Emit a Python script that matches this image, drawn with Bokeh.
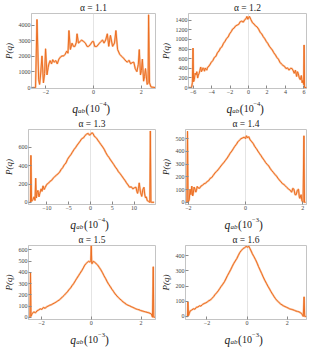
from bokeh.plotting import figure
from bokeh.layouts import column, row
from bokeh.models import FixedTicker, Range1d, Title
from bokeh.core.properties import value
from bokeh.embed import file_html
from bokeh.resources import INLINE

# ---------------- data ----------------
alphas = ["1.1", "1.2", "1.3", "1.4", "1.5", "1.6"]
exponents = ["−4", "−4", "−4", "−3", "−3", "−3"]

x1 = [-2.56,-2.43,-2.37,-2.30,-2.26,-2.22,-2.16,-2.10,-2.05,-2.01,-1.95,-1.90,-1.87,-1.82,-1.76,-1.71,-1.65,-1.58,-1.52,-1.45,-1.39,-1.32,-1.25,-1.19,-1.12,-1.07,-1.03,-0.97,-0.90,-0.84,-0.78,-0.72,-0.69,-0.63,-0.56,-0.50,-0.41,-0.34,-0.27,-0.21,-0.14,-0.05,0.0,0.05,0.14,0.25,0.31,0.38,0.44,0.51,0.58,0.64,0.71,0.80,0.88,0.94,1.01,1.10,1.16,1.22,1.29,1.36,1.42,1.49,1.56,1.62,1.69,1.75,1.82,1.88,1.92,1.97,2.01,2.05,2.10,2.14,2.18,2.25,2.29,2.31,2.35,2.41,2.58]
y1 = [0,0,4370,500,200,800,2030,300,900,2490,810,1300,1520,1730,1520,1790,1630,1730,1520,1830,1950,2030,2030,2130,2340,2200,3660,2440,2850,2640,2640,2900,3450,2850,2950,3050,2950,2850,2640,2640,2740,2950,2950,2640,2640,2850,2950,3050,2850,3050,3450,2640,3350,2640,2850,3660,2440,2130,2030,1950,1830,1700,1630,1750,1520,1600,1630,1220,1020,1500,2440,810,1100,1830,410,700,1220,200,300,4670,300,40,0]

x2 = [-6.50,-6.17,-6.08,-6.01,-5.95,-5.87,-5.78,-5.68,-5.60,-5.51,-5.43,-5.35,-5.26,-5.18,-5.10,-5.02,-4.93,-4.85,-4.77,-4.69,-4.60,-4.52,-4.44,-4.36,-4.20,-4.03,-3.87,-3.70,-3.53,-3.37,-3.20,-3.04,-2.87,-2.71,-2.55,-2.38,-2.21,-2.05,-1.88,-1.72,-1.55,-1.39,-1.22,-1.06,-0.90,-0.73,-0.57,-0.40,-0.28,-0.17,-0.08,0.0,0.10,0.26,0.43,0.60,0.76,0.93,1.09,1.26,1.42,1.59,1.75,1.92,2.08,2.25,2.41,2.58,2.74,2.91,3.07,3.24,3.40,3.57,3.73,3.90,4.06,4.22,4.39,4.55,4.72,4.84,4.95,5.08,5.21,5.30,5.38,5.50,5.61,5.72,5.81,5.90,5.97,6.02,6.07,6.30]
y2 = [0,0,100,822,120,164,300,263,330,197,260,296,360,427,330,362,410,394,340,407,380,362,420,427,470,526,560,625,650,723,760,822,850,920,960,1019,1050,1117,1160,1216,1240,1282,1300,1314,1370,1380,1360,1413,1430,1479,1420,1446,1480,1413,1348,1320,1282,1260,1216,1150,1117,1060,1019,960,920,860,822,780,723,680,625,590,526,490,460,440,394,410,362,400,394,350,296,360,230,330,296,200,164,250,99,150,60,887,0,0]

x3 = [-14.0,-13.75,-13.65,-13.5,-13.2,-12.92,-12.7,-12.55,-12.4,-12.2,-12.04,-11.8,-11.61,-11.31,-11.1,-10.88,-10.6,-10.36,-10.0,-9.6,-9.27,-8.9,-8.54,-8.2,-7.81,-7.45,-7.08,-6.7,-6.35,-6.0,-5.62,-5.25,-4.89,-4.5,-4.16,-3.8,-3.43,-3.05,-2.70,-2.35,-1.97,-1.6,-1.24,-0.9,-0.51,-0.25,0.0,0.3,0.58,0.85,1.09,1.4,1.68,2.05,2.41,2.8,3.14,3.5,3.87,4.25,4.60,4.95,5.33,5.7,6.06,6.4,6.79,7.15,7.52,7.9,8.25,8.6,8.98,9.35,9.71,10.1,10.44,10.62,10.80,11.0,11.17,11.45,11.75,12.0,12.26,12.45,12.63,12.8,12.99,13.3,13.6,13.72,13.85,14.0,14.6]
y3 = [0,0,513,10,30,60,20,264,47,110,130,60,97,147,120,180,140,164,197,210,230,240,264,280,297,310,330,360,380,410,430,470,497,520,547,575,597,625,647,670,697,705,730,745,753,735,740,760,753,725,713,700,680,655,630,605,580,545,513,490,463,440,413,385,363,335,313,290,264,240,213,190,164,170,147,160,164,120,97,150,213,110,64,140,164,80,47,60,20,10,0,780,0,0,0]

x4 = [-2.10,-2.05,-2.03,-2.01,-1.97,-1.94,-1.91,-1.88,-1.85,-1.83,-1.80,-1.77,-1.74,-1.72,-1.69,-1.67,-1.61,-1.56,-1.50,-1.45,-1.40,-1.34,-1.29,-1.24,-1.18,-1.13,-1.07,-1.02,-0.96,-0.91,-0.86,-0.81,-0.75,-0.70,-0.64,-0.59,-0.54,-0.48,-0.43,-0.38,-0.32,-0.27,-0.21,-0.16,-0.10,-0.05,0.0,0.03,0.07,0.11,0.16,0.22,0.27,0.32,0.38,0.43,0.48,0.54,0.59,0.65,0.70,0.75,0.81,0.86,0.91,0.97,1.02,1.08,1.13,1.18,1.24,1.29,1.34,1.40,1.45,1.51,1.56,1.61,1.65,1.69,1.73,1.77,1.81,1.85,1.88,1.90,1.94,1.97,2.01,2.04,2.06,2.08,2.10]
y4 = [0,0,558,0,20,103,60,127,50,67,120,103,80,91,125,115,110,127,135,146,150,163,170,187,195,211,230,242,255,271,285,299,315,330,348,366,385,402,420,438,455,474,488,499,505,510,500,522,505,515,490,474,460,438,420,402,385,366,348,330,312,299,285,266,250,235,220,206,190,175,160,146,140,127,115,103,95,79,110,103,60,60,95,103,40,31,60,12,0,522,0,0,0]

x5 = [-2.50,-2.46,-2.44,-2.42,-2.38,-2.31,-2.24,-2.18,-2.11,-2.05,-1.98,-1.92,-1.85,-1.79,-1.73,-1.67,-1.60,-1.54,-1.47,-1.41,-1.35,-1.28,-1.22,-1.15,-1.09,-1.03,-0.96,-0.90,-0.83,-0.77,-0.70,-0.64,-0.58,-0.51,-0.45,-0.38,-0.32,-0.26,-0.20,-0.15,-0.10,-0.06,-0.02,0.0,0.02,0.04,0.08,0.13,0.19,0.26,0.32,0.38,0.45,0.51,0.58,0.64,0.70,0.77,0.83,0.90,0.96,1.03,1.09,1.15,1.22,1.28,1.35,1.41,1.47,1.54,1.60,1.67,1.73,1.79,1.86,1.92,1.98,2.05,2.11,2.18,2.24,2.31,2.36,2.41,2.46,2.49,2.51,2.53,2.56]
y5 = [0,0,397,8,30,48,40,56,65,75,70,88,80,94,100,107,112,120,128,136,145,155,168,182,195,210,226,244,262,282,303,325,347,371,392,416,440,465,480,492,500,492,505,639,480,479,500,492,480,465,445,425,398,371,344,317,294,271,250,228,208,190,176,163,150,136,126,115,108,102,95,88,82,75,70,67,60,56,52,48,44,40,35,30,0,451,0,0,0]

x6 = [-3.02,-2.97,-2.95,-2.92,-2.88,-2.84,-2.76,-2.68,-2.60,-2.53,-2.45,-2.37,-2.30,-2.22,-2.14,-2.06,-1.98,-1.91,-1.83,-1.75,-1.67,-1.60,-1.52,-1.44,-1.37,-1.29,-1.21,-1.13,-1.06,-0.98,-0.90,-0.82,-0.75,-0.67,-0.59,-0.51,-0.44,-0.36,-0.28,-0.20,-0.12,-0.05,0.03,0.08,0.14,0.20,0.26,0.34,0.42,0.50,0.57,0.65,0.73,0.80,0.88,0.96,1.04,1.12,1.19,1.27,1.35,1.42,1.50,1.58,1.66,1.74,1.81,1.89,1.97,2.05,2.12,2.20,2.28,2.36,2.43,2.51,2.59,2.65,2.71,2.76,2.80,2.84,2.87,2.90,2.95]
y6 = [0,0,95,5,20,36,42,50,48,60,62,70,68,79,85,89,96,103,108,119,130,143,155,168,182,198,212,228,246,268,287,307,326,347,364,381,400,421,434,446,452,460,455,462,446,430,412,393,373,350,327,304,281,260,238,218,198,180,163,146,129,116,103,93,83,76,70,65,60,55,50,47,44,40,36,33,30,25,20,10,0,129,0,0,0]

xticks = [[-2, 0, 2], [-6, -4, -2, 0, 2, 4, 6], [-10, -5, 0, 5, 10], [-2, 0, 2], [-2, 0, 2], [-2, 0, 2]]
yticks = [[0, 1000, 2000, 3000, 4000], [0, 200, 400, 600, 800, 1000, 1200, 1400],
          [0, 200, 400, 600], [0, 100, 200, 300, 400, 500], [0, 100, 200, 300, 400, 500, 600],
          [0, 100, 200, 300, 400]]
xranges = [(-2.6, 2.6), (-6.5, 6.28), (-14.2, 14.9), (-2.1, 2.13), (-2.52, 2.58), (-3.07, 2.96)]
yranges = [(-60, 4750), (-20, 1540), (-24, 796), (-17, 571), (-20, 640), (-20, 466)]

xs = [x1, x2, x3, x4, x5, x6]
ys = [y1, y2, y3, y4, y5, y6]

# ---------------- styling ----------------
SERIF = "Liberation Serif"
LINE = "#EC6E22"
LIGHT = "#F6A874"
FRAME = "#c4c4c4"
TXT = "#222222"

ROW_H = [116, 116, 115]
TITLE_BAND = 12
TICK_BAND = 9
XLAB_H = 19
COLS = [(157, 26, 2), (151, 25, 2)]   # (cell width, left border, right border)


def put(f, x, y, s, size, style="normal"):
    f.text(x=[x], y=[y], text=[s],
           text_font=value(SERIF), text_font_size=value(f"{size}px"),
           text_font_style=value(style), text_align=value("left"),
           text_baseline=value("alphabetic"), text_color=TXT)


def panel(i):
    w, left, right = COLS[i % 2]
    h = ROW_H[i // 2]
    fw = w - left - right
    ph = h - XLAB_H

    p = figure(width=w, height=ph, output_backend="svg", toolbar_location=None,
               x_range=Range1d(*xranges[i]), y_range=Range1d(*yranges[i]),
               min_border_left=left, min_border_right=right,
               min_border_top=TITLE_BAND, min_border_bottom=TICK_BAND)
    p.title = Title(text="α = " + alphas[i], align="center", text_font=SERIF,
                    text_font_size="9.5px", text_font_style="normal", text_color=TXT,
                    standoff=1, offset=0)
    p.background_fill_color = "white"
    p.border_fill_color = "white"
    p.outline_line_color = FRAME
    p.ygrid.visible = False
    p.xgrid.ticker = FixedTicker(ticks=[0])
    p.xgrid.grid_line_color = "#e4e4e4"
    p.xaxis.ticker = FixedTicker(ticks=xticks[i])
    p.yaxis.ticker = FixedTicker(ticks=yticks[i])
    p.xaxis.major_label_overrides = {t: ("−" + str(-t)) for t in xticks[i] if t < 0}
    for ax in (p.xaxis[0], p.yaxis[0]):
        ax.axis_line_color = FRAME
        ax.major_tick_line_color = "#8a8a8a"
        ax.major_tick_in = 3
        ax.major_tick_out = 0
        ax.minor_tick_line_color = None
        ax.major_label_text_font = SERIF
        ax.major_label_text_font_size = "6px"
        ax.major_label_text_color = "#444444"
        ax.major_label_standoff = 1
    p.xaxis.axis_label = None
    p.yaxis.axis_label = "P(q)"
    p.yaxis.axis_label_text_font = SERIF
    p.yaxis.axis_label_text_font_size = "9px"
    p.yaxis.axis_label_text_font_style = "italic"
    p.yaxis.axis_label_text_color = TXT
    p.yaxis.axis_label_standoff = 2

    p.line(xs[i], ys[i], line_color=LIGHT, line_width=2.0, line_alpha=0.7)
    p.line(xs[i], ys[i], line_color=LINE, line_width=1.0)

    # x label  q_ab (10^-n) in a strip sharing the plot's left/right borders
    xl = figure(width=w, height=XLAB_H, output_backend="svg", toolbar_location=None,
                title=None, x_range=Range1d(0, fw), y_range=Range1d(0, XLAB_H),
                x_axis_type=None, y_axis_type=None,
                min_border_left=left, min_border_right=right,
                min_border_top=0, min_border_bottom=0)
    xl.outline_line_color = None
    xl.grid.visible = False
    xl.background_fill_color = "white"
    xl.border_fill_color = "white"
    s = fw / 2.0 - 22
    yb = 8
    put(xl, s, yb, "q", 11.5, "italic")
    put(xl, s + 6.0, yb - 2.0, "ab", 7, "italic")
    put(xl, s + 13.8, yb, "(", 11.5)
    put(xl, s + 18.0, yb, "10", 10)
    put(xl, s + 28.2, yb + 4.2, exponents[i], 6.5)
    put(xl, s + 35.2, yb, ")", 11.5)

    return column(p, xl)


cells = [panel(i) for i in range(6)]
layout = column(row(cells[0], cells[1]), row(cells[2], cells[3]), row(cells[4], cells[5]))

open("out.html", "w").write(file_html(layout, INLINE))
